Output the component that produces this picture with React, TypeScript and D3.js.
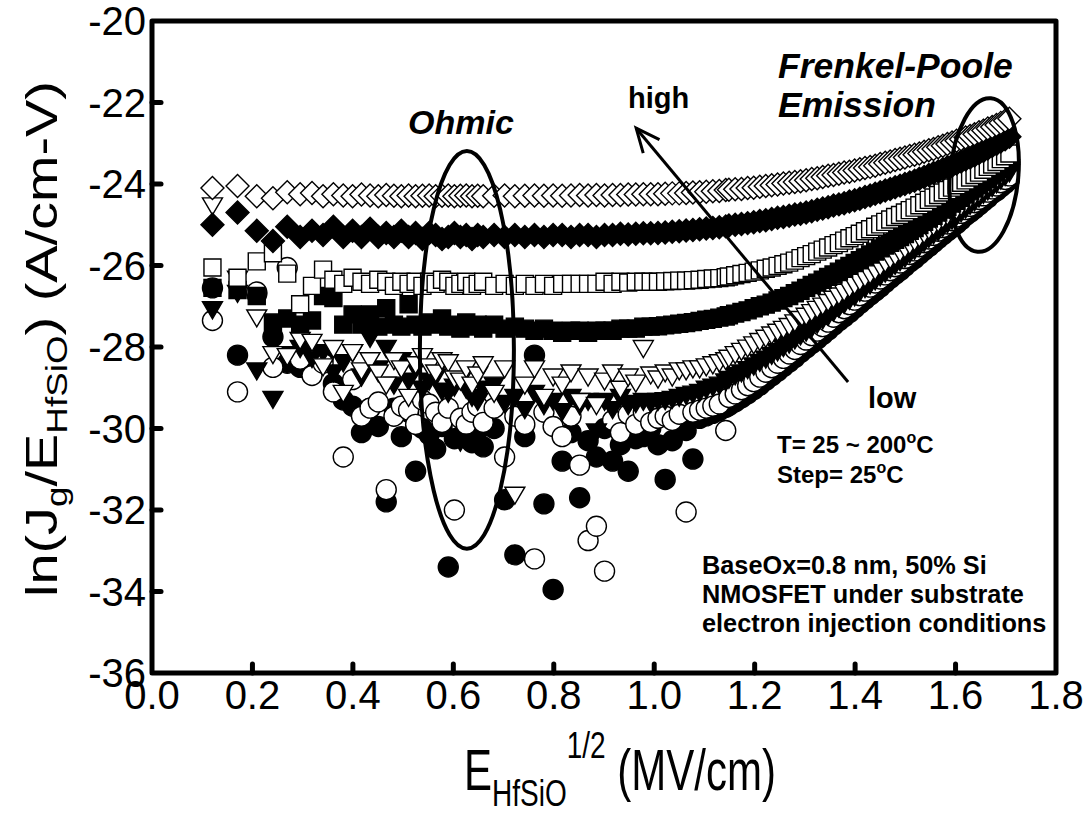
import React from "react";
import * as d3 from "d3";

// E^(1/2) sampling grid, (MV/cm)^(1/2)
const xGrid = [
  0.1204, 0.1703, 0.2086, 0.2408, 0.2693, 0.2950, 0.3186, 0.3406, 0.3612, 0.3808,
  0.3994, 0.4171, 0.4342, 0.4506, 0.4664, 0.4817, 0.4965, 0.5109, 0.5249, 0.5385,
  0.5518, 0.5648, 0.5775, 0.5899, 0.6021, 0.6140, 0.6257, 0.6372, 0.6485, 0.6595,
  0.6812, 0.7021, 0.7225, 0.7423, 0.7616, 0.7804, 0.7987, 0.8167, 0.8343, 0.8515,
  0.8683, 0.8849, 0.9011, 0.9171, 0.9327, 0.9482, 0.9633, 0.9783, 0.9930, 1.0075,
  1.0218, 1.0359, 1.0498, 1.0635, 1.0770, 1.0904, 1.1036, 1.1167, 1.1296, 1.1424,
  1.1487, 1.1612, 1.1737, 1.1860, 1.1981, 1.2102, 1.2221, 1.2339,
  1.2456, 1.2572, 1.2687, 1.2800, 1.2913, 1.3025, 1.3136, 1.3246,
  1.3355, 1.3463, 1.3570, 1.3677, 1.3782, 1.3887, 1.3991, 1.4094,
  1.4197, 1.4299, 1.4400, 1.4500, 1.4600, 1.4699, 1.4797, 1.4895,
  1.4992, 1.5088, 1.5184, 1.5279, 1.5374, 1.5468, 1.5561, 1.5654,
  1.5746, 1.5838, 1.5930, 1.6020, 1.6111, 1.6200, 1.6290, 1.6378,
  1.6467, 1.6554, 1.6642, 1.6729, 1.6815, 1.6901, 1.6987, 1.7072,
];

// 200 C - open diamond
const yOpenDiamond = [
  -24.10, -24.05, -24.30, -24.35, -24.20, -24.25, -24.22, -24.30, -24.25, -24.28,
  -24.30, -24.26, -24.28, -24.30, -24.27, -24.29, -24.30, -24.28, -24.30, -24.29,
  -24.28, -24.30, -24.29, -24.28, -24.30, -24.29, -24.28, -24.30, -24.29, -24.30,
  -24.29, -24.28, -24.30, -24.29, -24.28, -24.29, -24.28, -24.29, -24.28, -24.27,
  -24.28, -24.27, -24.28, -24.27, -24.27, -24.26, -24.26, -24.25, -24.25, -24.25,
  -24.24, -24.23, -24.23, -24.22, -24.21, -24.20, -24.19, -24.18, -24.17, -24.15,
  -24.14, -24.13, -24.12, -24.10, -24.09, -24.07, -24.05, -24.03,
  -24.01, -23.99, -23.97, -23.95, -23.93, -23.91, -23.88, -23.86,
  -23.83, -23.80, -23.78, -23.75, -23.72, -23.70, -23.67, -23.64,
  -23.61, -23.58, -23.55, -23.51, -23.48, -23.45, -23.41, -23.38,
  -23.35, -23.31, -23.28, -23.25, -23.21, -23.17, -23.14, -23.10,
  -23.06, -23.02, -22.98, -22.94, -22.90, -22.86, -22.82, -22.78,
  -22.73, -22.69, -22.64, -22.60, -22.55, -22.50, -22.45, -22.40,
];

// 175 C - filled diamond
const yFilledDiamond = [
  -25.00, -24.70, -25.15, -25.40, -25.05, -25.30, -25.15, -25.25, -25.05, -25.30,
  -25.15, -25.30, -25.10, -25.30, -25.20, -25.30, -25.15, -25.30, -25.20, -25.35,
  -25.20, -25.25, -25.35, -25.30, -25.20, -25.30, -25.25, -25.35, -25.25, -25.30,
  -25.25, -25.30, -25.25, -25.30, -25.25, -25.30, -25.25, -25.25, -25.30, -25.25,
  -25.25, -25.30, -25.25, -25.25, -25.22, -25.24, -25.22, -25.21, -25.21, -25.20,
  -25.19, -25.17, -25.16, -25.14, -25.13, -25.11, -25.09, -25.08, -25.06, -25.04,
  -25.02, -25.00, -24.98, -24.96, -24.94, -24.91, -24.89, -24.86,
  -24.83, -24.81, -24.78, -24.75, -24.73, -24.70, -24.67, -24.63,
  -24.60, -24.57, -24.53, -24.50, -24.47, -24.43, -24.40, -24.36,
  -24.32, -24.28, -24.24, -24.20, -24.16, -24.12, -24.08, -24.04,
  -24.00, -23.96, -23.92, -23.87, -23.83, -23.78, -23.73, -23.69,
  -23.64, -23.59, -23.55, -23.50, -23.45, -23.40, -23.35, -23.30,
  -23.24, -23.19, -23.13, -23.07, -23.02, -22.96, -22.90, -22.84,
];

// 150 C - open square
const yOpenSquare = [
  -26.05, -26.30, -25.90, -25.70, -26.20, -26.95, -26.50, -26.10, -26.35, -26.45,
  -26.30, -26.40, -26.45, -26.35, -26.40, -26.50, -26.40, -26.45, -26.40, -26.50,
  -26.40, -26.45, -26.35, -26.40, -26.50, -26.45, -26.40, -26.50, -26.45, -26.40,
  -26.50, -26.45, -26.50, -26.45, -26.50, -26.45, -26.50, -26.45, -26.45, -26.45,
  -26.45, -26.45, -26.40, -26.45, -26.40, -26.42, -26.40, -26.40, -26.40, -26.40,
  -26.39, -26.38, -26.37, -26.37, -26.36, -26.35, -26.33, -26.32, -26.31, -26.29,
  -26.27, -26.24, -26.21, -26.18, -26.15, -26.12, -26.08, -26.05,
  -26.01, -25.97, -25.93, -25.88, -25.82, -25.77, -25.72, -25.66,
  -25.61, -25.56, -25.50, -25.45, -25.39, -25.33, -25.28, -25.22,
  -25.16, -25.11, -25.05, -24.99, -24.93, -24.87, -24.81, -24.76,
  -24.70, -24.64, -24.58, -24.52, -24.46, -24.39, -24.33, -24.27,
  -24.21, -24.15, -24.09, -24.03, -23.97, -23.91, -23.84, -23.78,
  -23.72, -23.65, -23.58, -23.52, -23.46, -23.39, -23.32, -23.25,
];

// 125 C - filled square
const yFilledSquare = [
  -26.55, -26.60, -26.75, -27.40, -27.30, -27.45, -27.35, -26.75, -26.80, -27.45,
  -27.20, -27.45, -27.20, -27.50, -27.05, -27.45, -27.50, -26.95, -27.45, -27.50,
  -27.40, -27.45, -27.30, -27.50, -27.45, -27.55, -27.40, -27.50, -27.45, -27.55,
  -27.45, -27.55, -27.50, -27.55, -27.60, -27.55, -27.60, -27.65, -27.60, -27.60,
  -27.65, -27.60, -27.60, -27.60, -27.55, -27.55, -27.55, -27.50, -27.50, -27.49,
  -27.47, -27.45, -27.43, -27.41, -27.39, -27.36, -27.33, -27.31, -27.28, -27.25,
  -27.22, -27.18, -27.14, -27.10, -27.05, -27.00, -26.96, -26.91,
  -26.86, -26.80, -26.75, -26.68, -26.62, -26.55, -26.48, -26.42,
  -26.35, -26.28, -26.22, -26.15, -26.08, -26.01, -25.94, -25.87,
  -25.80, -25.73, -25.66, -25.58, -25.51, -25.44, -25.37, -25.30,
  -25.23, -25.15, -25.08, -25.01, -24.93, -24.85, -24.78, -24.70,
  -24.63, -24.56, -24.48, -24.41, -24.34, -24.26, -24.18, -24.11,
  -24.03, -23.95, -23.87, -23.79, -23.72, -23.63, -23.55, -23.47,
];

// 100 C - open down-triangle
const yOpenTriangle = [
  -24.50, -26.30, -27.25, -28.15, -28.20, -27.80, -27.85, -28.45, -28.00, -29.10,
  -28.10, -28.55, -28.30, -28.60, -28.90, -28.30, -28.50, -29.20, -28.40, -28.20,
  -28.45, -28.60, -28.30, -28.35, -28.75, -28.80, -28.50, -28.90, -28.65, -28.40,
  -29.10, -28.50, -31.60, -28.90, -28.50, -29.20, -28.70, -28.90, -28.60, -29.30,
  -28.70, -29.40, -28.80, -28.60, -29.00, -28.70, -28.85, -28.00, -28.65, -28.75,
  -28.60, -28.70, -28.55, -28.55, -28.50, -28.50, -28.45, -28.40, -28.35, -28.30,
  -28.24, -28.15, -28.07, -27.99, -27.91, -27.83, -27.75, -27.67,
  -27.60, -27.53, -27.46, -27.37, -27.29, -27.21, -27.12, -27.04,
  -26.96, -26.87, -26.79, -26.71, -26.62, -26.53, -26.45, -26.36,
  -26.27, -26.19, -26.10, -26.00, -25.91, -25.82, -25.74, -25.65,
  -25.56, -25.47, -25.38, -25.29, -25.20, -25.10, -25.01, -24.92,
  -24.83, -24.75, -24.68, -24.61, -24.52, -24.43, -24.33, -24.26,
  -24.19, -24.10, -24.01, -23.93, -23.86, -23.77, -23.67, -23.57,
];

// 75 C - filled down-triangle
const yFilledTriangle = [
  -27.05, -26.65, -28.55, -29.25, -28.15, -28.00, -28.25, -28.10, -28.60, -28.35,
  -28.10, -28.70, -27.75, -28.50, -28.00, -28.90, -28.30, -28.80, -28.50, -29.00,
  -28.80, -28.70, -29.05, -29.10, -28.95, -30.30, -29.00, -29.20, -29.30, -29.00,
  -28.90, -29.35, -29.20, -29.50, -29.10, -29.40, -29.30, -29.55, -29.20, -29.40,
  -29.30, -30.05, -29.30, -29.50, -29.20, -29.40, -29.35, -29.30, -29.35, -29.30,
  -29.28, -29.25, -29.20, -29.15, -29.12, -29.08, -29.00, -28.95, -28.90, -28.82,
  -28.76, -28.67, -28.60, -28.52, -28.43, -28.34, -28.26, -28.17,
  -28.08, -27.98, -27.89, -27.79, -27.69, -27.60, -27.50, -27.40,
  -27.30, -27.21, -27.11, -27.01, -26.92, -26.82, -26.73, -26.62,
  -26.53, -26.44, -26.34, -26.24, -26.15, -26.05, -25.96, -25.87,
  -25.78, -25.68, -25.59, -25.50, -25.40, -25.30, -25.21, -25.13,
  -25.03, -24.94, -24.85, -24.76, -24.67, -24.58, -24.49, -24.40,
  -24.31, -24.22, -24.13, -24.05, -23.96, -23.87, -23.78, -23.69,
];

// 50 C - open circle
const yOpenCircle = [
  -27.35, -29.10, -26.65, -28.50, -26.05, -28.30, -28.70, -28.40, -29.10, -30.70,
  -28.80, -29.70, -29.50, -29.35, -31.50, -29.70, -29.45, -29.55, -29.90, -29.30,
  -29.40, -29.60, -29.85, -29.50, -32.00, -29.75, -29.90, -29.60, -29.45, -29.85,
  -29.50, -30.70, -29.70, -29.90, -33.20, -29.60, -29.95, -30.20, -29.70, -30.90,
  -32.75, -32.40, -33.50, -29.80, -30.10, -29.65, -29.90, -29.60, -29.85, -29.75,
  -29.70, -29.80, -29.65, -32.05, -29.60, -29.55, -29.50, -29.45, -29.40, -30.05,
  -29.24, -29.15, -29.05, -28.95, -28.85, -28.74, -28.62, -28.51,
  -28.40, -28.28, -28.17, -28.06, -27.94, -27.83, -27.72, -27.61,
  -27.50, -27.39, -27.27, -27.16, -27.06, -26.96, -26.85, -26.74,
  -26.63, -26.53, -26.43, -26.33, -26.23, -26.13, -26.03, -25.94,
  -25.83, -25.73, -25.64, -25.54, -25.44, -25.35, -25.26, -25.16,
  -25.07, -24.98, -24.90, -24.81, -24.72, -24.63, -24.55, -24.46,
  -24.38, -24.29, -24.20, -24.12, -24.05, -23.97, -23.89, -23.80,
];

// 25 C - filled circle
const yFilledCircle = [
  -26.55, -28.20, -26.70, -27.75, -28.40, -28.50, -28.15, -28.30, -28.90, -29.30,
  -29.45, -30.10, -29.50, -29.95, -31.80, -29.50, -30.20, -29.60, -31.05, -30.00,
  -30.15, -30.50, -29.95, -33.40, -30.25, -30.20, -29.90, -30.35, -30.05, -30.45,
  -30.00, -31.75, -33.10, -30.20, -28.20, -31.85, -33.95, -30.80, -30.10, -31.70,
  -30.30, -30.70, -30.00, -30.80, -30.40, -31.05, -30.25, -30.20, -30.00, -30.40,
  -31.25, -30.30, -29.90, -30.05, -30.75, -29.75, -29.69, -29.63, -29.56, -29.48,
  -29.44, -29.35, -29.25, -29.15, -29.05, -28.94, -28.82, -28.71,
  -28.60, -28.48, -28.37, -28.26, -28.14, -28.03, -27.92, -27.81,
  -27.70, -27.59, -27.47, -27.36, -27.26, -27.16, -27.05, -26.94,
  -26.83, -26.73, -26.63, -26.53, -26.42, -26.32, -26.22, -26.13,
  -26.02, -25.92, -25.83, -25.73, -25.63, -25.54, -25.44, -25.34,
  -25.25, -25.16, -25.07, -24.98, -24.88, -24.78, -24.70, -24.61,
  -24.52, -24.43, -24.34, -24.24, -24.17, -24.08, -23.99, -23.90,
];

const xTicks = [0.0, 0.2, 0.4, 0.6, 0.8, 1.0, 1.2, 1.4, 1.6, 1.8];
const yTicks = [-36, -34, -32, -30, -28, -26, -24, -22, -20];

type Shape = "circle" | "triangle" | "square" | "diamond";
const series: { name: string; values: number[]; shape: Shape; filled: boolean }[] = [
  { name: "25C", values: yFilledCircle, shape: "circle", filled: true },
  { name: "50C", values: yOpenCircle, shape: "circle", filled: false },
  { name: "75C", values: yFilledTriangle, shape: "triangle", filled: true },
  { name: "100C", values: yOpenTriangle, shape: "triangle", filled: false },
  { name: "125C", values: yFilledSquare, shape: "square", filled: true },
  { name: "150C", values: yOpenSquare, shape: "square", filled: false },
  { name: "175C", values: yFilledDiamond, shape: "diamond", filled: true },
  { name: "200C", values: yOpenDiamond, shape: "diamond", filled: false },
];

const W = 1088;
const H = 818;
const x = d3.scaleLinear().domain([0, 1.8]).range([152, 1056]);
const y = d3.scaleLinear().domain([-36, -20]).range([673, 21]);

const shapePath: Record<Shape, string> = {
  circle: d3.symbol(d3.symbolCircle, Math.PI * 10 * 10)() as string,
  triangle: "M-10,-6.5L10,-6.5L0,10.5Z",
  square: "M-8.5,-8.5L8.5,-8.5L8.5,8.5L-8.5,8.5Z",
  diamond: "M0,-11.5L11.5,0L0,11.5L-11.5,0Z",
};

const FONT = "Arial, 'Liberation Sans', Helvetica, sans-serif";

export default function App() {
  const fmtX = (v: number) => v.toFixed(1);

  // annotation geometry in data space
  const ohm = { cx: 0.627, cy: -28.07, rx: 0.0936, ry: 4.88 };
  const fp = { cx: 1.657, cy: -23.78, rx: 0.068, ry: 1.89 };
  const arrowFrom = [1.386, -28.86];
  const arrowTo = [0.964, -22.63];

  const ax1 = x(arrowFrom[0]);
  const ay1 = y(arrowFrom[1]);
  const ax2 = x(arrowTo[0]);
  const ay2 = y(arrowTo[1]);
  const ang = Math.atan2(ay1 - ay2, ax1 - ax2);
  const wing = 26;
  const spread = 0.42;
  const w1 = [ax2 + wing * Math.cos(ang + spread), ay2 + wing * Math.sin(ang + spread)];
  const w2 = [ax2 + wing * Math.cos(ang - spread), ay2 + wing * Math.sin(ang - spread)];

  return (
    <svg
      width={W}
      height={H}
      viewBox={`0 0 ${W} ${H}`}
      style={{ position: "absolute", left: 0, top: 0, background: "#fff" }}
      fontFamily={FONT}
    >
      <rect x={0} y={0} width={W} height={H} fill="#fff" />

      {/* data */}
      {series.map((s) => (
        <g key={s.name}>
          {xGrid.map((xv, i) =>
            s.values[i] === undefined ? null : (
              <path
                key={i}
                d={shapePath[s.shape]}
                transform={`translate(${x(xv)},${y(s.values[i])})`}
                fill={s.filled ? "#000" : "#fff"}
                stroke="#000"
                strokeWidth={1.4}
              />
            )
          )}
        </g>
      ))}

      {/* frame */}
      <rect
        x={x(0)}
        y={y(-20)}
        width={x(1.8) - x(0)}
        height={y(-36) - y(-20)}
        fill="none"
        stroke="#000"
        strokeWidth={5}
        strokeLinejoin="round"
      />
      {yTicks.map((t) => (
        <g key={`yt${t}`}>
          {t > -36 && t < -20 && (
            <line x1={x(0)} x2={x(0) + 9} y1={y(t)} y2={y(t)} stroke="#000" strokeWidth={5} strokeLinecap="round" />
          )}
          <text x={146} y={y(t)} dy="0.36em" textAnchor="end" fontSize={40}>
            {t}
          </text>
        </g>
      ))}
      {xTicks.map((t) => (
        <g key={`xt${t}`}>
          {t > 0 && t < 1.8 && (
            <line x1={x(t)} x2={x(t)} y1={y(-36)} y2={y(-36) - 9} stroke="#000" strokeWidth={5} strokeLinecap="round" />
          )}
          <text x={x(t)} y={709} textAnchor="middle" fontSize={40}>
            {fmtX(t)}
          </text>
        </g>
      ))}

      {/* axis titles */}
      <g transform="translate(620,790) scale(1,1.35)">
        <text x={0} y={0} textAnchor="middle" fontSize={42}>
          E
          <tspan fontSize={28} dy={12}>HfSiO</tspan>
          <tspan fontSize={28} dy={-36}>1/2</tspan>
          <tspan dy={24}> (MV/cm)</tspan>
        </text>
      </g>
      <g transform="translate(57,339) rotate(-90) scale(1.27,1)">
        <text x={0} y={0} textAnchor="middle" fontSize={44}>
          ln(J
          <tspan fontSize={29} dy={10}>g</tspan>
          <tspan dy={-10}>/E</tspan>
          <tspan fontSize={29} dy={10}>HfSiO</tspan>
          <tspan dy={-10}>) (A/cm-V)</tspan>
        </text>
      </g>

      {/* annotations */}
      <ellipse
        cx={x(ohm.cx)}
        cy={y(ohm.cy)}
        rx={x(ohm.cx + ohm.rx) - x(ohm.cx)}
        ry={y(ohm.cy) - y(ohm.cy + ohm.ry)}
        fill="none"
        stroke="#000"
        strokeWidth={4}
      />
      <ellipse
        cx={0}
        cy={0}
        rx={x(fp.cx + fp.rx) - x(fp.cx)}
        ry={y(fp.cy) - y(fp.cy + fp.ry)}
        transform={`translate(${x(fp.cx)},${y(fp.cy)}) rotate(5)`}
        fill="none"
        stroke="#000"
        strokeWidth={4}
      />
      <line x1={ax1} y1={ay1} x2={ax2} y2={ay2} stroke="#000" strokeWidth={3} />
      <polyline
        points={`${w1[0]},${w1[1]} ${ax2},${ay2} ${w2[0]},${w2[1]}`}
        fill="none"
        stroke="#000"
        strokeWidth={3}
      />

      <text x={408} y={134} fontSize={34} fontWeight="bold" fontStyle="italic">Ohmic</text>
      <text x={778} y={78} fontSize={35.5} fontWeight="bold" fontStyle="italic">Frenkel-Poole</text>
      <text x={778} y={117} fontSize={35.5} fontWeight="bold" fontStyle="italic">Emission</text>
      <text x={628} y={108} fontSize={29} fontWeight="bold">high</text>
      <text x={868} y={408} fontSize={29} fontWeight="bold">low</text>

      <text x={777} y={453} fontSize={24} fontWeight="bold">
        T= 25 ~ 200<tspan fontSize={16} dy={-10}>o</tspan><tspan dy={10}>C</tspan>
      </text>
      <text x={777} y={483} fontSize={24} fontWeight="bold">
        Step= 25<tspan fontSize={16} dy={-10}>o</tspan><tspan dy={10}>C</tspan>
      </text>

      <text x={702} y={574} fontSize={25.3} fontWeight="bold">BaseOx=0.8 nm, 50% Si</text>
      <text x={702} y={603} fontSize={25.3} fontWeight="bold">NMOSFET under substrate</text>
      <text x={702} y={632} fontSize={25.3} fontWeight="bold">electron injection conditions</text>
    </svg>
  );
}
